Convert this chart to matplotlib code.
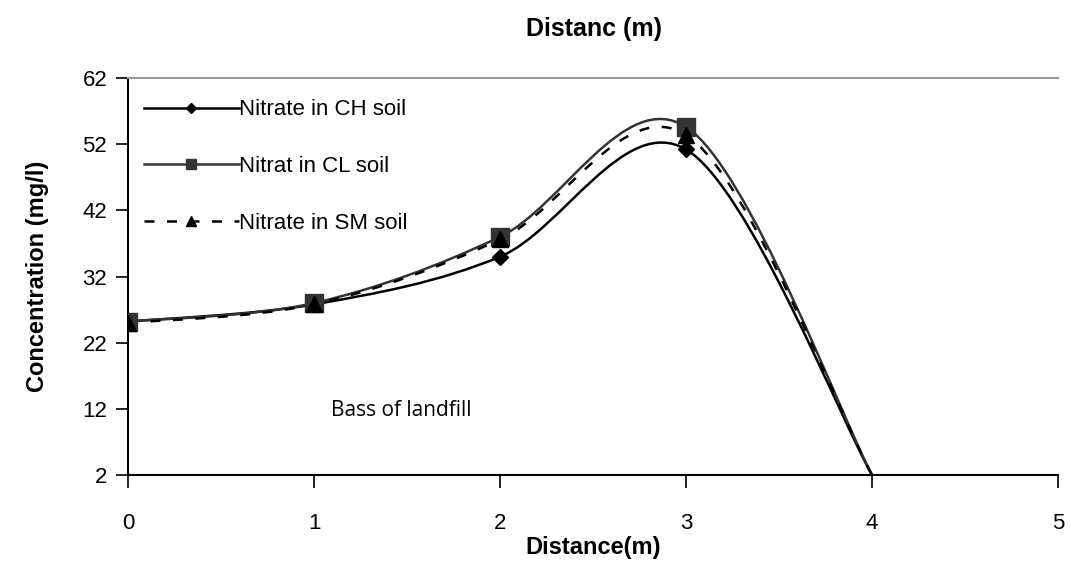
import numpy as np
import matplotlib.pyplot as plt
from matplotlib.path import Path
from matplotlib.patches import PathPatch
from matplotlib.lines import Line2D

distance = [0, 1, 2, 3, 4]
nitrate_ch = [25.2, 27.8, 35.0, 51.2, 2.0]
nitrate_cl = [25.2, 28.0, 38.0, 54.6, 2.0]
nitrate_sm = [25.0, 27.8, 37.6, 53.4, 2.0]
labels = ["Nitrate in CH soil", "Nitrat in CL soil", "Nitrate in SM soil"]
yticks = [2, 12, 22, 32, 42, 52, 62]
xticks = [0, 1, 2, 3, 4, 5]

plt.rcParams['font.family'] = ['Liberation Sans', 'DejaVu Sans']


def smooth_path(x, y):
    # Excel-style smoothed line: cubic Bezier through points (Catmull-Rom, 1/6)
    pts = np.column_stack([x, y]).astype(float)
    n = len(pts)
    verts = [pts[0]]
    codes = [Path.MOVETO]
    for i in range(n - 1):
        p0 = pts[i - 1] if i > 0 else pts[i]
        p1 = pts[i]
        p2 = pts[i + 1]
        p3 = pts[i + 2] if i + 2 < n else pts[i + 1]
        c1 = p1 + (p2 - p0) / 6
        c2 = p2 - (p3 - p1) / 6
        verts += [c1, c2, p2]
        codes += [Path.CURVE4] * 3
    return Path(verts, codes)


fig = plt.figure(figsize=(10.71, 5.65), dpi=100)
ax = fig.add_axes([0.1195, 0.159, 0.8685, 0.703])

series = [
    (nitrate_ch, 'black', '-', 'D', 8),
    (nitrate_cl, '#333333', '-', 's', 13),
    (nitrate_sm, 'black', (0, (4, 5)), '^', 12),
]
handles = []
for (vals, col, ls, mk, ms), lab in zip(series, labels):
    patch = PathPatch(smooth_path(distance, vals), facecolor='none', edgecolor=col,
                      lw=1.8, linestyle=ls, zorder=3)
    ax.add_patch(patch)
    ax.plot(distance[:-1], vals[:-1], linestyle='none', marker=mk, ms=ms,
            color=col, zorder=4)
    handles.append(Line2D([], [], color=col, linestyle=ls, lw=1.8, marker=mk,
                          ms=ms * 0.6))

ax.set_xlim(0, 5)
ax.set_ylim(2, 62)
ax.set_xticks(xticks)
ax.set_yticks(yticks)
ax.tick_params(axis='both', direction='out', length=9, width=1.2, labelsize=16,
               pad=6)
ax.tick_params(axis='x', pad=18)
for s in ['left', 'bottom']:
    ax.spines[s].set_linewidth(1.5)
ax.spines['top'].set_color('#999999')
ax.spines['top'].set_linewidth(1.5)
ax.spines['right'].set_visible(False)

ax.legend(handles, labels, loc='upper left', frameon=False, fontsize=16,
          handlelength=4.3, handletextpad=0.0, labelspacing=1.6,
          bbox_to_anchor=(0.0, 0.985), borderaxespad=0.3)

ax.text(1.09, 11.8, "Bass of landfill", fontsize=15, family='Open Sans',
        va='center')

ax.set_xlabel("Distance(m)", fontsize=17, fontweight='bold', labelpad=2)
ax.set_ylabel("Concentration (mg/l)", fontsize=17, fontweight='bold', labelpad=24)
fig.suptitle("Distanc (m)", x=0.555, y=0.97, fontsize=18, fontweight='bold')

fig.savefig("out.png", dpi=100)
